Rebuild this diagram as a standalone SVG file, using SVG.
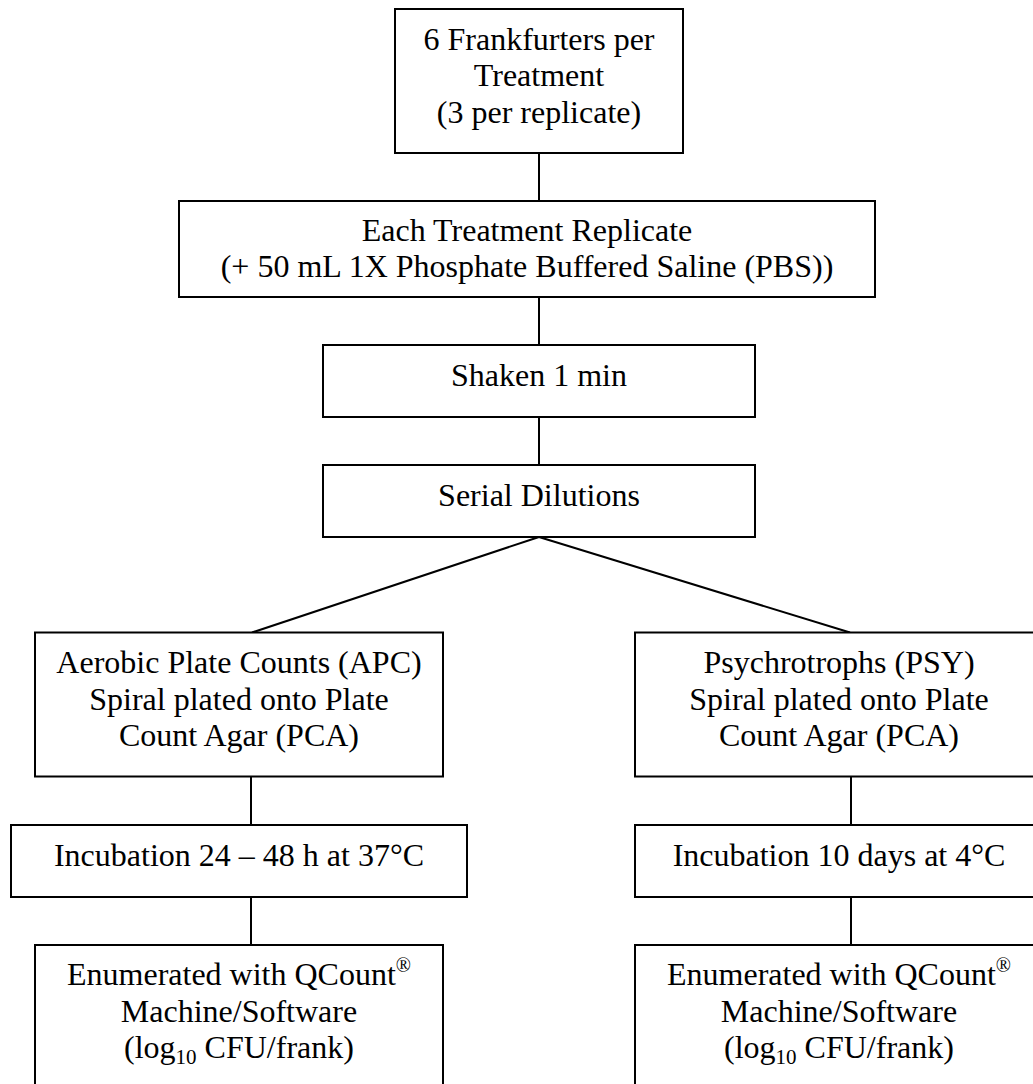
<svg xmlns="http://www.w3.org/2000/svg" width="1033" height="1084" viewBox="0 0 1033 1084">
<style>
  .box { fill: #ffffff; stroke: #000000; stroke-width: 2; }
  .conn line { stroke: #000000; stroke-width: 2; }
  text { font-family: "Liberation Serif", "Times New Roman", serif; font-size: 32px; fill: #000000; text-anchor: middle; }
  .sup { font-size: 20px; }
  .sub { font-size: 21px; }
</style>
<rect x="0" y="0" width="1033" height="1084" fill="#ffffff"/>
<g id="connectors" class="conn">
  <line x1="539" y1="153" x2="539" y2="201"/>
  <line x1="539" y1="297" x2="539" y2="345"/>
  <line x1="539" y1="417" x2="539" y2="465"/>
  <line x1="539" y1="537" x2="252" y2="632.5"/>
  <line x1="539" y1="537" x2="850" y2="632.5"/>
  <line x1="251" y1="776.5" x2="251" y2="825"/>
  <line x1="251" y1="897" x2="251" y2="945"/>
  <line x1="851" y1="776.5" x2="851" y2="825"/>
  <line x1="851" y1="897" x2="851" y2="945"/>
</g>
<g id="node-frankfurters">
  <rect class="box" x="395" y="9" width="288" height="144"/>
  <text x="539" y="49.5">6 Frankfurters per</text>
  <text x="539" y="86">Treatment</text>
  <text x="539" y="122.5">(3 per replicate)</text>
</g>
<g id="node-replicate">
  <rect class="box" x="179" y="201" width="696" height="96"/>
  <text x="527" y="240.5">Each Treatment Replicate</text>
  <text x="527" y="276.5">(+ 50 mL 1X Phosphate Buffered Saline (PBS))</text>
</g>
<g id="node-shaken">
  <rect class="box" x="323" y="345" width="432" height="72"/>
  <text x="539" y="386">Shaken 1 min</text>
</g>
<g id="node-dilutions">
  <rect class="box" x="323" y="465" width="432" height="72"/>
  <text x="539" y="505.5">Serial Dilutions</text>
</g>
<g id="node-apc">
  <rect class="box" x="35" y="632.5" width="408" height="144"/>
  <text x="239" y="673">Aerobic Plate Counts (APC)</text>
  <text x="239" y="709.5">Spiral plated onto Plate</text>
  <text x="239" y="746">Count Agar (PCA)</text>
</g>
<g id="node-psy">
  <rect class="box" x="635" y="632.5" width="408" height="144"/>
  <text x="839" y="673">Psychrotrophs (PSY)</text>
  <text x="839" y="709.5">Spiral plated onto Plate</text>
  <text x="839" y="746">Count Agar (PCA)</text>
</g>
<g id="node-incubation-apc">
  <rect class="box" x="11" y="825" width="456" height="72"/>
  <text x="239" y="866">Incubation 24 – 48 h at 37°C</text>
</g>
<g id="node-incubation-psy">
  <rect class="box" x="635" y="825" width="456" height="72"/>
  <text x="839" y="866">Incubation 10 days at 4°C</text>
</g>
<g id="node-enumerated-apc">
  <rect class="box" x="35" y="945" width="408" height="160"/>
  <text x="239" y="985">Enumerated with QCount<tspan class="sup" dy="-13">®</tspan></text>
  <text x="239" y="1021.5">Machine/Software</text>
  <text x="239" y="1057.5">(log<tspan class="sub" dy="6">10</tspan><tspan dy="-6"> CFU/frank)</tspan></text>
</g>
<g id="node-enumerated-psy">
  <rect class="box" x="635" y="945" width="408" height="160"/>
  <text x="839" y="985">Enumerated with QCount<tspan class="sup" dy="-13">®</tspan></text>
  <text x="839" y="1021.5">Machine/Software</text>
  <text x="839" y="1057.5">(log<tspan class="sub" dy="6">10</tspan><tspan dy="-6"> CFU/frank)</tspan></text>
</g>
</svg>
